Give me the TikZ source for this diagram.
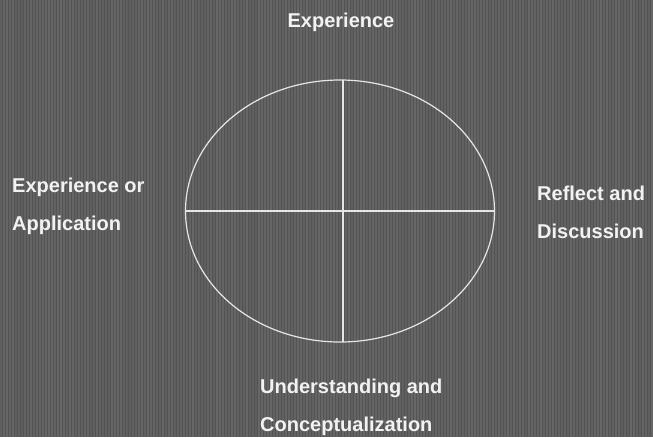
\documentclass[tikz,border=0pt]{standalone}
\usepackage{fontspec}
\setmainfont{Liberation Sans}
\definecolor{bg}{HTML}{535353}
\definecolor{ink}{HTML}{F2F2F2}
\definecolor{lineink}{HTML}{E6E6E6}
\tikzset{
  lbl/.style={text=ink, font=\bfseries\fontsize{20}{38}\selectfont, inner sep=0pt, align=left},
  ring/.style={draw=lineink, line width=1.2pt, ellipse, inner sep=0pt},
  crossline/.style={draw=lineink, line width=1.1pt}
}
\usetikzlibrary{shapes.geometric}
\begin{document}
\begin{tikzpicture}[x=1pt,y=-1pt]
  \fill[bg] (0,0) rectangle (653,437);
  \useasboundingbox (0,0) rectangle (653,437);
  % scan texture: vertical stripes
  \pgfmathsetseed{7}
  \foreach \i in {0,3,...,651}{
    \pgfmathsetmacro{\g}{rnd*30}
    \fill[black!\g!white, opacity=0.12] (\i,0) rectangle ++(2,437);
  }
  \node[ring, minimum width=309pt, minimum height=262pt] (oval) at (340,211) {};
  \coordinate (vtop) at (343,80);
  \coordinate (vbot) at (343,342);
  \draw[crossline] (oval.west) -- (oval.east);
  \draw[crossline] (vtop) -- (vbot);
  \node[lbl, anchor=north] (top) at (341,13) {Experience};
  \node[lbl, anchor=north west] (left) at (12,178) {Experience or\\Application};
  \node[lbl, anchor=north west] (right) at (537,186) {Reflect and\\Discussion};
  \node[lbl, anchor=north west] (bottom) at (260,379) {Understanding and\\Conceptualization};
\end{tikzpicture}
\end{document}
